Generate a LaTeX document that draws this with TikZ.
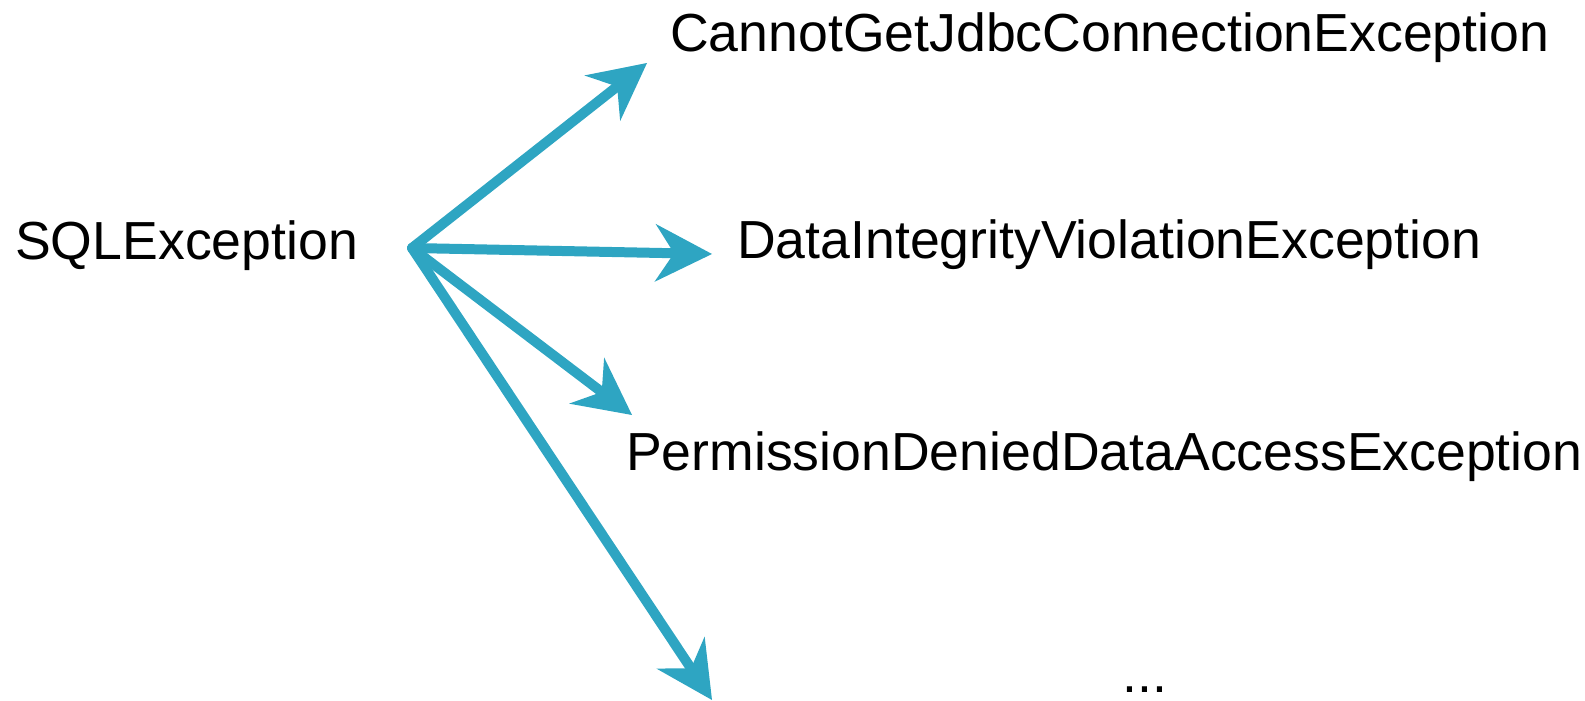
\documentclass[tikz,border=0pt]{standalone}
\usepackage{fontspec}
\setmainfont{Liberation Sans}
\usetikzlibrary{arrows.meta}
\definecolor{arrowblue}{RGB}{46,165,194}
\begin{document}
\begin{tikzpicture}[x=1pt,y=-1pt,
  lbl/.style={anchor=base west,inner sep=0pt,font=\fontsize{53.6}{60}\selectfont},
  conn/.style={draw=arrowblue,line width=10pt,line cap=round,
    -{Stealth[length=57pt,width=58pt,inset=19pt,line width=0pt]}}]
\useasboundingbox (0,0) rectangle (1585,701);
\node[lbl] (sql) at (15,259) {SQLException};
\node[lbl] (cannot) at (670,52) {CannotGetJdbcConnectionException};
\node[lbl] (data) at (737,258) {DataIntegrityViolationException};
\node[lbl] (perm) at (626,470) {PermissionDeniedDataAccessException};
\node[lbl] (more) at (1122,692) {...};
\coordinate (o) at (412,248);
\coordinate (t1) at (647,63);
\coordinate (t2) at (712,254);
\coordinate (t3) at (632,415);
\coordinate (t4) at (712,700);
\draw[conn] (o) -- (t1);
\draw[conn] (o) -- (t2);
\draw[conn] (o) -- (t3);
\draw[conn] (o) -- (t4);
\end{tikzpicture}
\end{document}
